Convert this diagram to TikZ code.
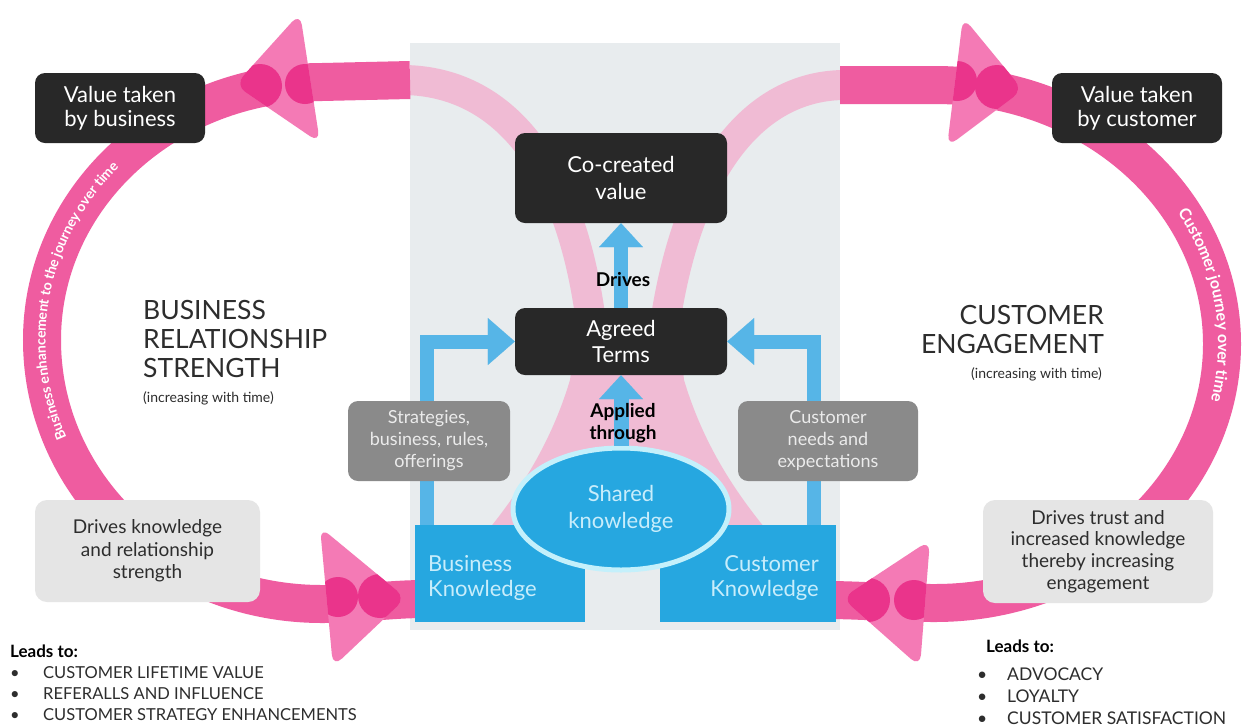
\documentclass[tikz,border=0pt]{standalone}
\usepackage{fontspec}
\setmainfont{Lato}
\usetikzlibrary{arrows.meta,decorations.text,shapes.geometric}
\definecolor{bandpink}{RGB}{239,92,160}
\definecolor{tripink}{RGB}{244,122,181}
\definecolor{blobpink}{RGB}{234,52,139}
\definecolor{palepink}{RGB}{240,187,212}
\definecolor{panelgray}{RGB}{232,236,238}
\definecolor{boxdark}{RGB}{40,40,40}
\definecolor{kblue}{RGB}{38,167,224}
\definecolor{elborder}{RGB}{196,240,251}
\definecolor{arrowblue}{RGB}{86,181,231}
\definecolor{midgray}{RGB}{138,138,138}
\definecolor{notefill}{RGB}{229,229,229}
\definecolor{textdark}{RGB}{45,45,45}
\definecolor{kbtext}{RGB}{200,237,251}
\newcommand{\myfs}[2]{\fontsize{#1}{#2}\selectfont}
\tikzset{
  darkbox/.style={fill=boxdark, rounded corners=10pt, text=white, align=center, inner sep=0pt},
  graybox/.style={fill=midgray, rounded corners=10pt, text=white!92!black, align=center, inner sep=0pt, font=\myfs{18}{22}},
  notebox/.style={fill=notefill, rounded corners=12pt, text=textdark, align=center, inner sep=0pt, font=\myfs{19}{22.5}},
  kbox/.style={fill=kblue, inner sep=0pt},
  kblabel/.style={inner sep=0pt, text=kbtext, font=\myfs{22}{25}},
  band/.style={draw=bandpink, line width=38pt},
  paleband/.style={draw=palepink, line width=30pt},
  tri/.style={fill=tripink, rounded corners=12pt},
  blob/.style={fill=blobpink},
  blueflow/.style={draw=arrowblue, line width=14pt, -{Triangle[length=27pt,width=47pt,line width=0.1pt]}},
  title/.style={inner sep=0pt, text=textdark, font=\myfs{26.5}{29}},
  small/.style={inner sep=0pt, text=textdark, font=\myfs{14}{16}},
  leads/.style={inner sep=0pt, text=black, font=\bfseries\myfs{17}{20}},
  item/.style={inner sep=0pt, text=textdark}
}
\begin{document}
\begin{tikzpicture}[x=1pt,y=-1pt]
\useasboundingbox (0,0) rectangle (1248,724);
\fill[white] (0,0) rectangle (1248,724);

% central panel
\node[fill=panelgray, minimum width=430pt, minimum height=587pt, inner sep=0pt] (panel) at (625,336.5) {};

% pale part of the loops inside the panel
\begin{scope}
\clip (410,43) rectangle (840,630);
\draw[paleband] (405,80) .. controls (500,82) and (572,160) .. (592,330);
\draw[paleband] (845,85) .. controls (760,85) and (688,160) .. (664,330);
\fill[palepink] (578,318) -- (678,318) -- (684,380) .. controls (702,440) and (732,490) .. (775,540) -- (480,540) .. controls (522,490) and (552,440) .. (570,380) -- cycle;
\end{scope}

% bright loops outside the panel
\draw[band] (410,80) -- (322,82) .. controls (167,82) and (42,197) .. (42,340) .. controls (42,486) and (167,604) .. (322,604) .. controls (360,604) and (390,599) .. (425,599);
\draw[band] (840,85) -- (935,85) .. controls (1093,85) and (1222,201) .. (1222,344) .. controls (1222,487) and (1093,603) .. (935,603) .. controls (890,603) and (860,600) .. (826,600);

% text along the loops
\path[decorate, decoration={text along path, text align=center, raise=-3.6pt,
  text={|\myfs{14}{16}\bfseries\color{white}|Business enhancement to the journey over time}}]
  (79.5,469) arc[start angle=150, end angle=230, x radius=280, y radius=258];
\path[decorate, decoration={text along path, text align=center, raise=-4pt,
  text={|\myfs{16}{18}\bfseries\color{white}|Customer journey over time}}]
  (1154.9,177.5) arc[start angle=-40, end angle=22, x radius=287, y radius=259];

% pink arrow heads
\fill[tri] (235,85) -- (300,13) -- (320,143) -- cycle;
\begin{scope}
\clip[rounded corners=12pt] (235,85) -- (300,13) -- (320,143) -- cycle;
\fill[blob] (260,86) circle[radius=22pt];
\fill[blob] (305,84) circle[radius=20pt];
\end{scope}
\fill[tri] (1023,90) -- (963,17) -- (947,147) -- cycle;
\begin{scope}
\clip[rounded corners=12pt] (1023,90) -- (963,17) -- (947,147) -- cycle;
\fill[blob] (997,87) circle[radius=22pt];
\fill[blob] (957,81) circle[radius=20pt];
\end{scope}
\fill[tri] (406,598) -- (320,527) -- (333,667) -- cycle;
\begin{scope}
\clip[rounded corners=12pt] (406,598) -- (320,527) -- (333,667) -- cycle;
\fill[blob] (380,596) circle[radius=22pt];
\fill[blob] (338,597) circle[radius=20pt];
\end{scope}
\fill[tri] (842,598) -- (930,540) -- (920,667) -- cycle;
\begin{scope}
\clip[rounded corners=12pt] (842,598) -- (930,540) -- (920,667) -- cycle;
\fill[blob] (868,600) circle[radius=22pt];
\fill[blob] (914,600) circle[radius=20pt];
\end{scope}

% outer boxes
\node[darkbox, minimum width=170pt, minimum height=70pt, font=\myfs{22}{24}] (vb) at (120,108) {Value taken\\by business};
\node[darkbox, minimum width=170pt, minimum height=70pt, font=\myfs{22}{24}] (vc) at (1137,108) {Value taken\\by customer};
\node[notebox, minimum width=225pt, minimum height=102pt] (dk) at (147.5,551) {Drives knowledge\\and relationship\\strength};
\node[notebox, minimum width=230pt, minimum height=103pt, font=\myfs{19}{21.7}] (dt) at (1098,551.5) {Drives trust and\\increased knowledge\\thereby increasing\\engagement};

% titles
\node[title, anchor=north west, align=left] (brs) at (143,300) {BUSINESS\\RELATIONSHIP\\STRENGTH};
\node[small, anchor=base west] (brsi) at (143,402) {(increasing with time)};
\node[title, anchor=north east, align=right] (ce) at (1104,305) {CUSTOMER\\ENGAGEMENT};
\node[small, anchor=base east] (cei) at (1102,378) {(increasing with time)};

% central nodes
\node[kbox, minimum width=170pt, minimum height=97pt] (bk) at (500,573.5) {};
\node[kblabel, anchor=north west, align=left] (bkt) at (428,555) {Business\\Knowledge};
\node[kbox, minimum width=176pt, minimum height=97pt] (ck) at (748,573.5) {};
\node[kblabel, anchor=north east, align=right] (ckt) at (819,555) {Customer\\Knowledge};
\node[ellipse, fill=kblue, draw=elborder, line width=5pt, minimum width=216pt, minimum height=122pt, inner sep=0pt, text=kbtext, align=center, font=\myfs{22}{27}] (sk) at (621,509) {Shared\\knowledge};
\node[darkbox, minimum width=212pt, minimum height=67pt, font=\myfs{22}{26}] (at) at (621,341.5) {Agreed\\Terms};
\node[darkbox, minimum width=212pt, minimum height=90pt, font=\myfs{22}{27}] (cc) at (621,178) {Co-created\\value};

% blue flows
\draw[blueflow] ([xshift=12pt]bk.north west) |- (at.west);
\draw[blueflow] ([xshift=-22pt]ck.north east) |- (at.east);
\draw[blueflow, line width=15pt, -{Triangle[length=24pt,width=44pt,line width=0.1pt]}] (sk.north) -- (at.south);
\draw[blueflow, line width=14pt, -{Triangle[length=24pt,width=44pt,line width=0.1pt]}] (at.north) -- (cc.south);

% gray boxes
\node[graybox, minimum width=162pt, minimum height=80pt] (sb) at (429,441) {Strategies,\\business, rules,\\offerings};
\node[graybox, minimum width=180pt, minimum height=80pt] (cn) at (828,441) {Customer\\needs and\\expectations};

% flow labels
\node[inner sep=0pt, anchor=base, font=\bfseries\myfs{19}{22}] (drv) at (623,286) {Drives};
\node[inner sep=0pt, align=center, font=\bfseries\myfs{19}{21.5}] (apt) at (623,423) {Applied\\through};

% leads to lists
\node[leads, anchor=base west] (lt1) at (10,657) {Leads to:};
\node[item, anchor=base west, font=\myfs{16.5}{20}] (b1) at (10,678) {•};
\node[item, anchor=base west, font=\myfs{16.5}{20}] (i1) at (43,678) {CUSTOMER LIFETIME VALUE};
\node[item, anchor=base west, font=\myfs{16.5}{20}] (b2) at (10,699) {•};
\node[item, anchor=base west, font=\myfs{16.5}{20}] (i2) at (43,699) {REFERALLS AND INFLUENCE};
\node[item, anchor=base west, font=\myfs{16.5}{20}] (b3) at (10,720) {•};
\node[item, anchor=base west, font=\myfs{16.5}{20}] (i3) at (43,720) {CUSTOMER STRATEGY ENHANCEMENTS};

\node[leads, anchor=base west] (lt2) at (986,652) {Leads to:};
\node[item, anchor=base west, font=\myfs{17.5}{21}] (c1) at (977,680) {•};
\node[item, anchor=base west, font=\myfs{17.5}{21}] (j1) at (1007,680) {ADVOCACY};
\node[item, anchor=base west, font=\myfs{17.5}{21}] (c2) at (977,702) {•};
\node[item, anchor=base west, font=\myfs{17.5}{21}] (j2) at (1007,702) {LOYALTY};
\node[item, anchor=base west, font=\myfs{17.5}{21}] (c3) at (977,724) {•};
\node[item, anchor=base west, font=\myfs{17.5}{21}] (j3) at (1007,724) {CUSTOMER SATISFACTION};
\end{tikzpicture}
\end{document}
